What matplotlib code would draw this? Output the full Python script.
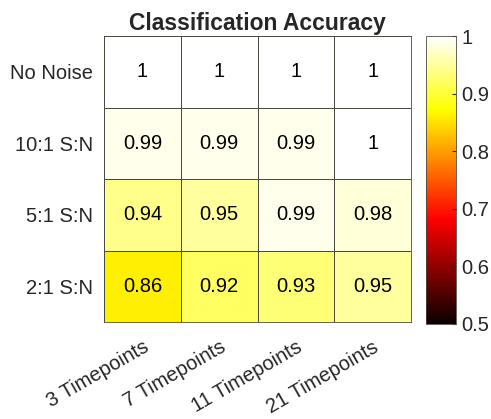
import numpy as np
import matplotlib
matplotlib.use("Agg")
import matplotlib.pyplot as plt
import matplotlib.transforms as mtransforms

plt.rcParams["font.family"] = ["Liberation Sans", "DejaVu Sans"]

rows = ["No Noise", "10:1 S:N", "5:1 S:N", "2:1 S:N"]
cols = ["3 Timepoints", "7 Timepoints", "11 Timepoints", "21 Timepoints"]
acc = [
    [1.00, 1.00, 1.00, 1.00],
    [0.99, 0.99, 0.99, 1.00],
    [0.94, 0.95, 0.99, 0.98],
    [0.86, 0.92, 0.93, 0.95],
]
labels = [
    ["1", "1", "1", "1"],
    ["0.99", "0.99", "0.99", "1"],
    ["0.94", "0.95", "0.99", "0.98"],
    ["0.86", "0.92", "0.93", "0.95"],
]


def main():
    data = np.array(acc)
    fig = plt.figure(figsize=(4.91, 4.19), dpi=100)
    ax = fig.add_axes([0.212, 0.231, 0.625, 0.683])
    cax = fig.add_axes([0.868, 0.227, 0.061, 0.687])

    mesh = ax.pcolormesh(data, cmap="hot", vmin=0.5, vmax=1.0,
                         edgecolors="#4a4a40", linewidth=0.5)
    ax.set_xlim(0, len(cols))
    ax.set_ylim(len(rows), 0)
    for i in range(len(rows)):
        for j in range(len(cols)):
            ax.text(j + 0.5, i + 0.5, labels[i][j], ha="center", va="center",
                    fontsize=14.5, color="black")

    ax.set_xticks(np.arange(len(cols)) + 0.5)
    ax.set_xticklabels(cols, rotation=30, ha="right", rotation_mode="anchor",
                       fontsize=14.5, color="#262626")
    shift = mtransforms.ScaledTranslation(0.08, 0, fig.dpi_scale_trans)
    for lbl in ax.get_xticklabels():
        lbl.set_transform(lbl.get_transform() + shift)
    ax.set_yticks(np.arange(len(rows)) + 0.5)
    ax.set_yticklabels(rows, fontsize=14.5, color="#262626")
    ax.tick_params(axis="y", length=0, pad=8)
    ax.tick_params(axis="x", length=0, pad=11)
    for s in ax.spines.values():
        s.set_color("#4a4a40")
        s.set_linewidth(0.6)
    ax.set_title("Classification Accuracy", fontsize=16.5, fontweight="bold",
                 color="#262626", pad=4)

    cb = fig.colorbar(mesh, cax=cax, ticks=[0.5, 0.6, 0.7, 0.8, 0.9, 1.0])
    cb.ax.set_yticklabels(["0.5", "0.6", "0.7", "0.8", "0.9", "1"])
    cb.ax.tick_params(labelsize=14.5, colors="#262626", length=3,
                      direction="in", width=0.8)
    cb.outline.set_edgecolor("#4a4a40")
    cb.outline.set_linewidth(0.6)

    fig.savefig("out.png", dpi=100)


if __name__ == "__main__":
    main()
